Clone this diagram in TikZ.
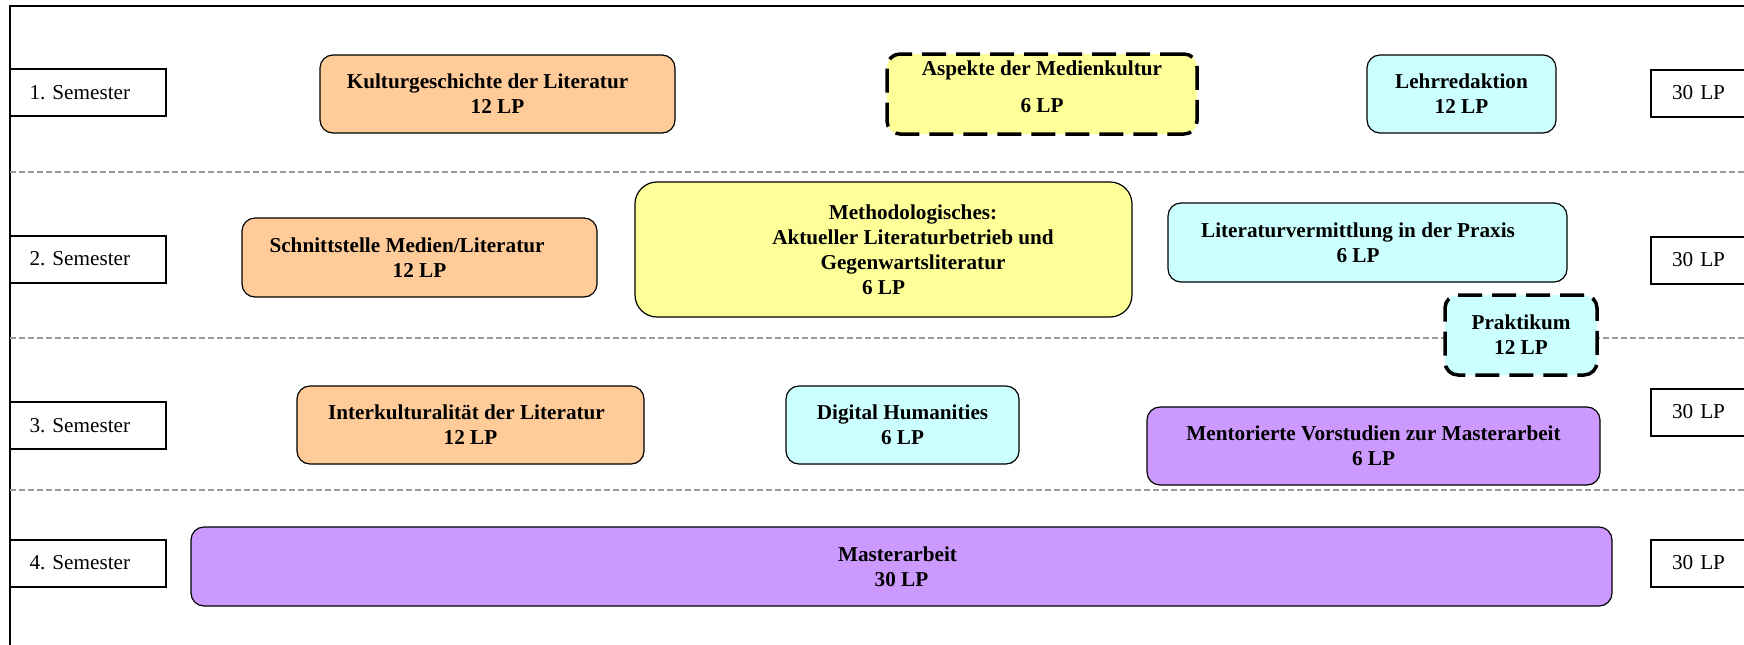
\documentclass[tikz,border=0pt]{standalone}
\usepackage{fontspec}
\setmainfont{Liberation Serif}
\frenchspacing
\definecolor{modorange}{HTML}{FFCC99}
\definecolor{modyellow}{HTML}{FFFF99}
\definecolor{modcyan}{HTML}{CCFFFF}
\definecolor{modpurple}{HTML}{CC99FF}
\definecolor{sepgray}{HTML}{999999}
\begin{document}
\begin{tikzpicture}[x=0.5pt,y=-0.5pt,
  mod/.style={draw=black, line width=0.6pt, rounded corners=6.5pt, align=center,
    inner sep=0pt, font=\fontsize{10.6}{12.5}\selectfont\bfseries},
  optmod/.style={mod, line width=1.75pt, dash pattern=on 12pt off 5pt},
  sem/.style={draw=black, line width=1pt, minimum width=78pt, minimum height=23.5pt,
    inner xsep=9.75pt, inner ysep=0pt, text width=58.5pt, align=left,
    font=\fontsize{10.6}{12.5}\selectfont},
  lpbox/.style={sem, minimum width=60pt, inner xsep=10.5pt, text width=39pt},
  sepline/.style={draw=sepgray, line width=1pt, dash pattern=on 3pt off 1.5pt},
  framebox/.style={draw=black, line width=1pt}
]
\useasboundingbox (0,0) rectangle (1744,644);
\clip (0,0) rectangle (1744,644);

% frame and separators
\draw[framebox] (10,6) rectangle (1770,670);
\draw[sepline] (10,172) -- (1744,172);
\draw[sepline] (10,338) -- (1744,338);
\draw[sepline] (10,490) -- (1744,490);

% semester labels
\node[sem] (s1) at (88,92.5) {1.\ Semester};
\node[sem] (s2) at (88,259) {2.\ Semester};
\node[sem] (s3) at (88,425.5) {3.\ Semester};
\node[sem] (s4) at (88,563) {4.\ Semester};

% credit boxes
\node[lpbox] (lp1) at (1711,93) {30 LP};
\node[lpbox] (lp2) at (1711,260) {30 LP};
\node[lpbox] (lp3) at (1711,412) {30 LP};
\node[lpbox] (lp4) at (1711,563) {30 LP};

% semester 1
\node[mod, fill=modorange, minimum width=177.5pt, minimum height=39pt] (kultur) at (497.5,94)
  {Kulturgeschichte der Literatur\hspace*{10pt}\\12 LP};
\node[optmod, fill=modyellow, minimum width=155pt, minimum height=40pt] (aspekte) at (1042,94)
  {Aspekte der Medienkultur\\[6pt]6 LP\rule[-7pt]{0pt}{7pt}};
\node[mod, fill=modcyan, minimum width=94.5pt, minimum height=39pt] (lehr) at (1461.5,94)
  {Lehrredaktion\\12 LP};

% semester 2
\node[mod, fill=modorange, minimum width=177.5pt, minimum height=39.5pt] (schnitt) at (419.5,257.5)
  {Schnittstelle Medien/Literatur\hspace*{12.5pt}\\12 LP};
\node[mod, fill=modyellow, rounded corners=11pt, minimum width=248.5pt, minimum height=67.5pt] (meth) at (883.5,249.5)
  {\hspace*{29.5pt}Methodologisches:\\\hspace*{29.5pt}Aktueller Literaturbetrieb und\\\hspace*{29.5pt}Gegenwartsliteratur\\6 LP};
\node[mod, fill=modcyan, minimum width=199.5pt, minimum height=39.5pt] (litv) at (1367.5,242.5)
  {Literaturvermittlung in der Praxis\hspace*{9.5pt}\\6 LP\hspace*{9.5pt}};
\node[optmod, fill=modcyan, minimum width=76pt, minimum height=40pt] (prakt) at (1521,335)
  {Praktikum\\12 LP};

% semester 3
\node[mod, fill=modorange, minimum width=173.5pt, minimum height=39pt] (inter) at (470.5,425)
  {Interkulturalität der Literatur\hspace*{4pt}\\12 LP};
\node[mod, fill=modcyan, minimum width=116.5pt, minimum height=39pt] (digital) at (902.5,425)
  {Digital Humanities\\6 LP};
\node[mod, fill=modpurple, minimum width=226.5pt, minimum height=39pt] (mentor) at (1373.5,446)
  {Mentorierte Vorstudien zur Masterarbeit\\6 LP};

% semester 4
\node[mod, fill=modpurple, minimum width=710.5pt, minimum height=39.5pt] (master) at (901.5,566.5)
  {Masterarbeit\hspace*{4pt}\\30 LP};
\end{tikzpicture}
\end{document}
